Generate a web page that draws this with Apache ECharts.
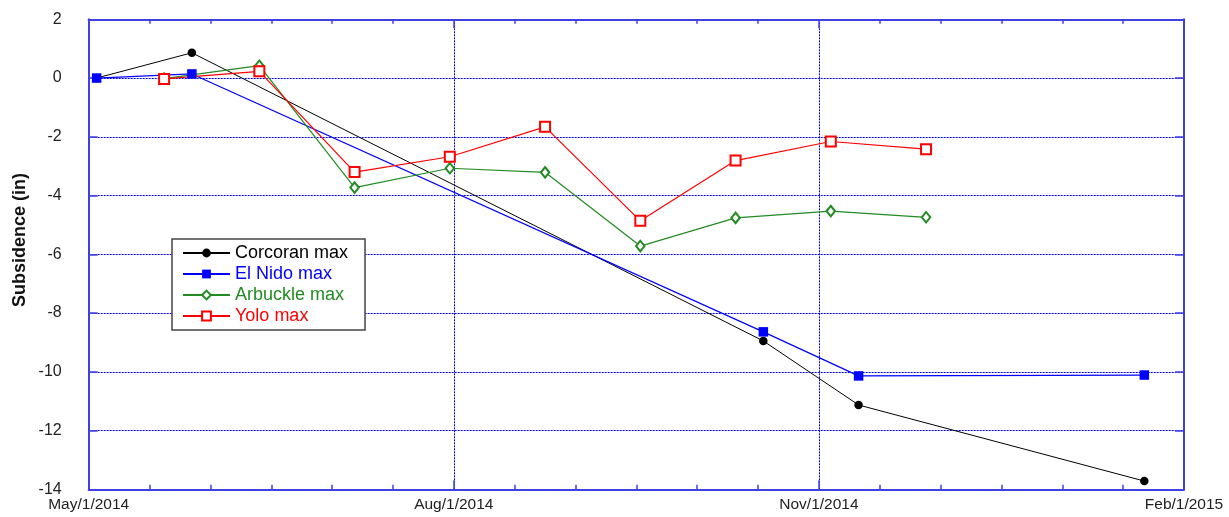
<!DOCTYPE html>
<html>
<head>
<meta charset="utf-8">
<script src="https://cdn.jsdelivr.net/npm/echarts@6/dist/echarts.min.js"></script>
<style>
  html, body { margin: 0; padding: 0; background: #fff; }
  #chart { width: 1229px; height: 517px; }
</style>
</head>
<body>
<div id="chart"></div>
<script>
// x is counted in days from May 1 2014
const startDate = '2014-05-01';
const tickLabels = ['May/1/2014', 'Aug/1/2014', 'Nov/1/2014', 'Feb/1/2015'];

const corcoranDates = ['2014-05-03', '2014-05-27', '2014-10-18', '2014-11-11', '2015-01-22'];
const corcoranMax = [0, 0.86, -8.95, -11.13, -13.72];

const elNidoDates = ['2014-05-03', '2014-05-27', '2014-10-18', '2014-11-11', '2015-01-22'];
const elNidoMax = [0, 0.14, -8.64, -10.14, -10.11];

const arbuckleDates = ['2014-05-20', '2014-06-13', '2014-07-07', '2014-07-31', '2014-08-24',
  '2014-09-17', '2014-10-11', '2014-11-04', '2014-11-28'];
const arbuckleMax = [-0.02, 0.42, -3.73, -3.07, -3.21, -5.72, -4.76, -4.53, -4.74];

const yoloDates = ['2014-05-20', '2014-06-13', '2014-07-07', '2014-07-31', '2014-08-24',
  '2014-09-17', '2014-10-11', '2014-11-04', '2014-11-28'];
const yoloMax = [-0.03, 0.23, -3.2, -2.68, -1.66, -4.86, -2.81, -2.16, -2.42];

const FONT = 'Liberation Sans';
const AXIS_COLOR = '#4040e0';
const GRID_LINE = { color: '#0000ee', type: [2, 1], width: 1 };

function toDay(d) {
  return (Date.parse(d) - Date.parse(startDate)) / 86400000;
}
function pairs(dates, values) {
  return dates.map((d, i) => [toDay(d), values[i]]);
}

const chart = echarts.init(document.getElementById('chart'), null, { renderer: 'canvas' });

const xBase = {
  type: 'value', min: 0, max: 276, interval: 92,
  axisLine: { show: true, onZero: false, lineStyle: { color: AXIS_COLOR, width: 2 } },
  axisTick: { show: true, inside: true, length: 9, lineStyle: { color: AXIS_COLOR, width: 1.5 } },
  minorTick: { show: true, splitNumber: 6, length: 4.5, lineStyle: { color: AXIS_COLOR, width: 1.5 } }
};
const yBase = {
  type: 'value', min: -14, max: 2, interval: 2,
  axisLine: { show: true, onZero: false, lineStyle: { color: AXIS_COLOR, width: 2 } },
  axisTick: { show: true, inside: true, length: 9, lineStyle: { color: AXIS_COLOR, width: 1.5 } }
};

chart.setOption({
  animation: false,
  backgroundColor: '#fff',
  textStyle: { fontFamily: FONT },
  grid: { left: 88.7, right: 45, top: 19.3, bottom: 27.7, containLabel: false },
  graphic: [{
    type: 'text', x: 20, y: 240, rotation: Math.PI / 2,
    style: {
      text: 'Subsidence (in)', fill: '#111', font: 'bold 18px "Liberation Sans"',
      textAlign: 'center', textVerticalAlign: 'middle'
    }
  }],
  legend: {
    orient: 'vertical', left: 172, top: 239,
    padding: [4, 17, 4, 10],
    backgroundColor: '#fff', borderColor: '#444', borderWidth: 1.5,
    itemWidth: 47, itemHeight: 11, itemGap: 1,
    textStyle: { fontSize: 18, lineHeight: 20, fontFamily: FONT },
    data: [
      { name: 'Corcoran max', textStyle: { color: '#000' } },
      { name: 'El Nido max', textStyle: { color: '#0000ff' } },
      { name: 'Arbuckle max', textStyle: { color: '#228b22' } },
      { name: 'Yolo max', textStyle: { color: '#ff0000' } }
    ]
  },
  xAxis: [
    Object.assign({}, xBase, {
      position: 'bottom',
      axisLabel: {
        margin: 7, fontSize: 15.5, color: '#222', fontFamily: FONT,
        formatter: v => tickLabels[Math.round(v / 92)]
      },
      splitLine: { show: true, lineStyle: GRID_LINE }
    }),
    Object.assign({}, xBase, {
      position: 'top', axisLabel: { show: false }, splitLine: { show: false }
    })
  ],
  yAxis: [
    Object.assign({}, yBase, {
      position: 'left',
      axisLabel: { margin: 27, fontSize: 16, color: '#222', fontFamily: FONT },
      splitLine: { show: true, lineStyle: GRID_LINE }
    }),
    Object.assign({}, yBase, {
      position: 'right', axisLabel: { show: false }, splitLine: { show: false }
    })
  ],
  series: [
    {
      name: 'Corcoran max', type: 'line', data: pairs(corcoranDates, corcoranMax),
      color: '#000', symbol: 'circle', symbolSize: 8.5,
      lineStyle: { width: 1, color: '#000' }
    },
    {
      name: 'El Nido max', type: 'line', data: pairs(elNidoDates, elNidoMax),
      color: '#0000ff', symbol: 'rect', symbolSize: 9.5,
      lineStyle: { width: 1.2, color: '#0000ff' }
    },
    {
      name: 'Arbuckle max', type: 'line', data: pairs(arbuckleDates, arbuckleMax),
      color: '#228b22', symbol: 'emptyDiamond', symbolSize: [8.5, 10.5],
      itemStyle: { borderWidth: 1 },
      lineStyle: { width: 1.2, color: '#228b22' }
    },
    {
      name: 'Yolo max', type: 'line', data: pairs(yoloDates, yoloMax),
      color: '#ff0000', symbol: 'emptyRect', symbolSize: 10,
      itemStyle: { borderWidth: 1.3 },
      lineStyle: { width: 1.2, color: '#ff0000' }
    }
  ]
});
</script>
</body>
</html>
